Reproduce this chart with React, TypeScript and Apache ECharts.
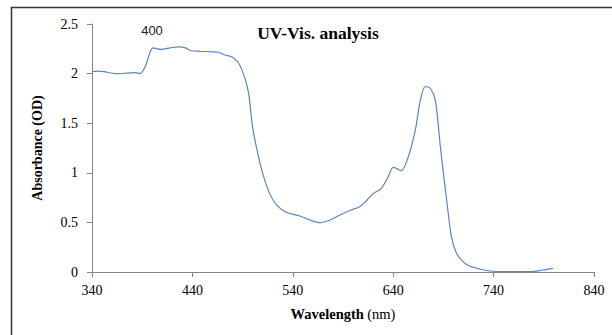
import React, { useEffect, useRef } from "react";
import * as echarts from "echarts";

const wavelengths = [340, 345, 352, 363, 375, 383, 388, 393, 398, 401, 405, 409, 418, 426, 433, 439, 448, 459, 466, 472, 480, 484, 487, 490, 493, 496, 500, 505, 510, 517, 524, 534, 547, 557, 567, 577, 587, 597, 607, 614, 620, 628, 635, 640, 644, 648, 655, 662, 667, 672, 677, 682, 687, 692, 698, 703, 710, 716, 726, 736, 756, 776, 789, 799];
const absorbance = [2.02, 2.025, 2.02, 2.0, 2.005, 2.01, 2.0, 2.07, 2.22, 2.26, 2.25, 2.245, 2.26, 2.27, 2.26, 2.23, 2.225, 2.22, 2.215, 2.19, 2.165, 2.13, 2.09, 2.02, 1.93, 1.8, 1.46, 1.2, 0.995, 0.79, 0.675, 0.6, 0.565, 0.524, 0.497, 0.524, 0.575, 0.62, 0.66, 0.726, 0.79, 0.84, 0.96, 1.055, 1.04, 1.02, 1.16, 1.43, 1.73, 1.87, 1.85, 1.73, 1.26, 0.83, 0.356, 0.19, 0.1, 0.06, 0.03, 0.01, 0.003, 0.003, 0.02, 0.037];
const xTicks = { min: 340, max: 840, interval: 100 };
const yTicks = { min: 0, max: 2.5, interval: 0.5 };
const titleText = "UV-Vis. analysis";
const strayLabel = "400";

export default function App() {
  const ref = useRef<HTMLDivElement>(null);
  useEffect(() => {
    const chart = echarts.init(ref.current!, null, { renderer: "svg" });
    const serif = "Liberation Serif";
    chart.setOption({
      animation: false,
      backgroundColor: "#ffffff",
      title: {
        text: titleText,
        left: 313,
        top: 19,
        textAlign: "center",
        textStyle: { fontFamily: serif, fontWeight: "bold", fontSize: 17.5, color: "#000" },
      },
      graphic: [
        {
          type: "rect",
          shape: { x: 11.5, y: 7.5, width: 640, height: 360 },
          style: { fill: "none", stroke: "#333", lineWidth: 1.5 },
          silent: true,
        },
        {
          type: "text",
          x: 152,
          y: 30,
          style: {
            text: strayLabel,
            fontFamily: "Liberation Sans",
            fontSize: 13,
            fill: "#222",
            align: "center",
            verticalAlign: "middle",
          },
        },
      ],
      grid: { left: 92, right: 18, top: 24, bottom: 63, containLabel: false },
      xAxis: {
        type: "value",
        min: xTicks.min,
        max: xTicks.max,
        interval: xTicks.interval,
        name: "{b|Wavelength} {n|(nm)}",
        nameLocation: "middle",
        nameGap: 34,
        nameTextStyle: {
          rich: {
            b: { fontFamily: serif, fontWeight: "bold", fontSize: 14.5, color: "#000" },
            n: { fontFamily: serif, fontSize: 14.5, color: "#000" },
          },
        },
        axisLine: { show: true, lineStyle: { color: "#868686", width: 1 } },
        axisTick: { show: true, inside: false, length: 5, lineStyle: { color: "#868686" } },
        axisLabel: { fontFamily: serif, fontSize: 14, color: "#000", margin: 11 },
        splitLine: { show: false },
      },
      yAxis: {
        type: "value",
        min: yTicks.min,
        max: yTicks.max,
        interval: yTicks.interval,
        name: "Absorbance (OD)",
        nameLocation: "middle",
        nameGap: 48,
        nameRotate: 90,
        nameTextStyle: { fontFamily: serif, fontWeight: "bold", fontSize: 14, color: "#000" },
        axisLine: { show: true, lineStyle: { color: "#868686", width: 1 } },
        axisTick: { show: true, inside: false, length: 5, lineStyle: { color: "#868686" } },
        axisLabel: { fontFamily: serif, fontSize: 14, color: "#000", margin: 14 },
        splitLine: { show: false },
      },
      series: [
        {
          type: "line",
          data: wavelengths.map((w, i) => [w, absorbance[i]]),
          smooth: 0.3,
          showSymbol: false,
          lineStyle: { color: "#5B84C0", width: 1.2 },
        },
      ],
    });
    return () => chart.dispose();
  }, []);
  return <div ref={ref} style={{ width: 612, height: 335, position: "fixed", left: 0, top: 0 }} />;
}
